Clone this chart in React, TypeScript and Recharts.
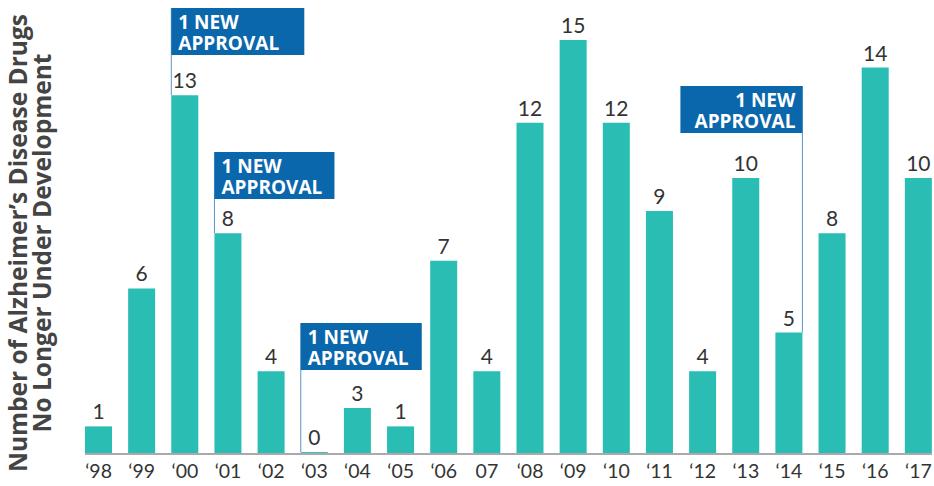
import React from "react";
import { BarChart, Bar, XAxis, YAxis, LabelList } from "recharts";

// years shown on the axis (the 2007 label has no apostrophe in the source)
const years = ["‘98", "‘99", "‘00", "‘01", "‘02", "‘03", "‘04", "‘05", "‘06", "07", "‘08", "‘09", "‘10", "‘11", "‘12", "‘13", "‘14", "‘15", "‘16", "‘17"];
// counts printed above the bars
const discontinued = [1, 6, 13, 8, 4, 0, 3, 1, 7, 4, 12, 15, 12, 9, 4, 10, 5, 8, 14, 10];
// bar heights as drawn in the source graphic (not exactly proportional to the counts)
const drawnHeights = [1, 6, 13, 8, 3, 0.07, 1.67, 1, 7, 3, 12, 15, 12, 8.8, 3, 10, 4.4, 8, 14, 10];
const approvalYears = ["‘00", "‘01", "‘03", "‘14"];
const approvalText = ["1 NEW", "APPROVAL"];
const titleLines = ["Number of Alzheimer’s Disease Drugs", "No Longer Under Development"];

const data = years.map((year, i) => ({ year, count: discontinued[i], height: drawnHeights[i] }));

const TEAL = "#29bdb3";
const BLUE = "#0b67ab";
const LINE = "#5b95cc";
const TEXT = "#333333";
const FONT = "Lato, 'Open Sans', sans-serif";

// box placement for each approval callout
const boxLayout: Record<string, { top: number; width: number; side: "left" | "right" }> = {
  "‘00": { top: 8, width: 133, side: "left" },
  "‘01": { top: 152, width: 120, side: "left" },
  "‘03": { top: 323, width: 121, side: "left" },
  "‘14": { top: 86, width: 122, side: "right" },
};

function ApprovalCallout(props: any) {
  const { x, y, width, index } = props;
  const year = years[index];
  if (!approvalYears.includes(year)) return null;
  const box = boxLayout[year];
  const anchorX = box.side === "left" ? Number(x) : Number(x) + Number(width);
  const boxX = box.side === "left" ? anchorX : anchorX - box.width;
  const textX = box.side === "left" ? boxX + 7 : anchorX - 7;
  const anchor = box.side === "left" ? "start" : "end";
  const h = 47;
  return (
    <g>
      <line x1={anchorX} y1={box.top} x2={anchorX} y2={Number(y)} stroke={LINE} strokeWidth={1} />
      <rect x={boxX} y={box.top} width={box.width} height={h} fill={BLUE} />
      {approvalText.map((t, i) => (
        <text
          key={t}
          x={textX}
          y={box.top + 21 + i * 21}
          textAnchor={anchor}
          fill="#ffffff"
          fontFamily="'Open Sans', sans-serif"
          fontWeight={700}
          fontSize={19}
        >
          {t}
        </text>
      ))}
    </g>
  );
}

function CountLabel(props: any) {
  const { x, y, width, index } = props;
  return (
    <text
      x={Number(x) + Number(width) / 2}
      y={Number(y) - 7}
      textAnchor="middle"
      fill={TEXT}
      fontSize={21}
      fontFamily={FONT}
    >
      {discontinued[index]}
    </text>
  );
}

export default function App() {
  return (
    <div style={{ position: "fixed", left: 0, top: 0, width: 934, height: 486, overflow: "hidden", background: "#fff" }}>
      <div style={{ position: "absolute", left: 30, top: 243, width: 0, height: 0 }}>
        <div
          style={{
            position: "absolute",
            left: 0,
            top: 0,
            transform: "translate(-50%, -50%) rotate(-90deg)",
            whiteSpace: "nowrap",
            textAlign: "center",
            fontFamily: "'Open Sans', sans-serif",
            fontWeight: 700,
            fontSize: 24.5,
            lineHeight: "24px",
            color: "#444444",
          }}
        >
          {titleLines.map((t) => (
            <div key={t}>{t}</div>
          ))}
        </div>
      </div>
      <BarChart
        width={934}
        height={486}
        data={data}
        margin={{ top: 40, right: 2, left: 85, bottom: 0 }}
        style={{ position: "absolute", left: 0, top: 0 }}
      >
        <XAxis
          dataKey="year"
          interval={0}
          height={32}
          padding={{ left: -8, right: -8 }}
          tickLine={false}
          tickMargin={4}
          axisLine={{ stroke: "#aaaaaa", strokeWidth: 2 }}
          tick={{ fill: TEXT, fontSize: 19.5, fontFamily: FONT }}
        />
        <YAxis domain={[0, 15]} hide />
        <Bar dataKey="height" fill={TEAL} barSize={27} isAnimationActive={false}>
          <LabelList dataKey="count" content={CountLabel} />
          <LabelList dataKey="year" content={ApprovalCallout} />
        </Bar>
      </BarChart>
    </div>
  );
}
